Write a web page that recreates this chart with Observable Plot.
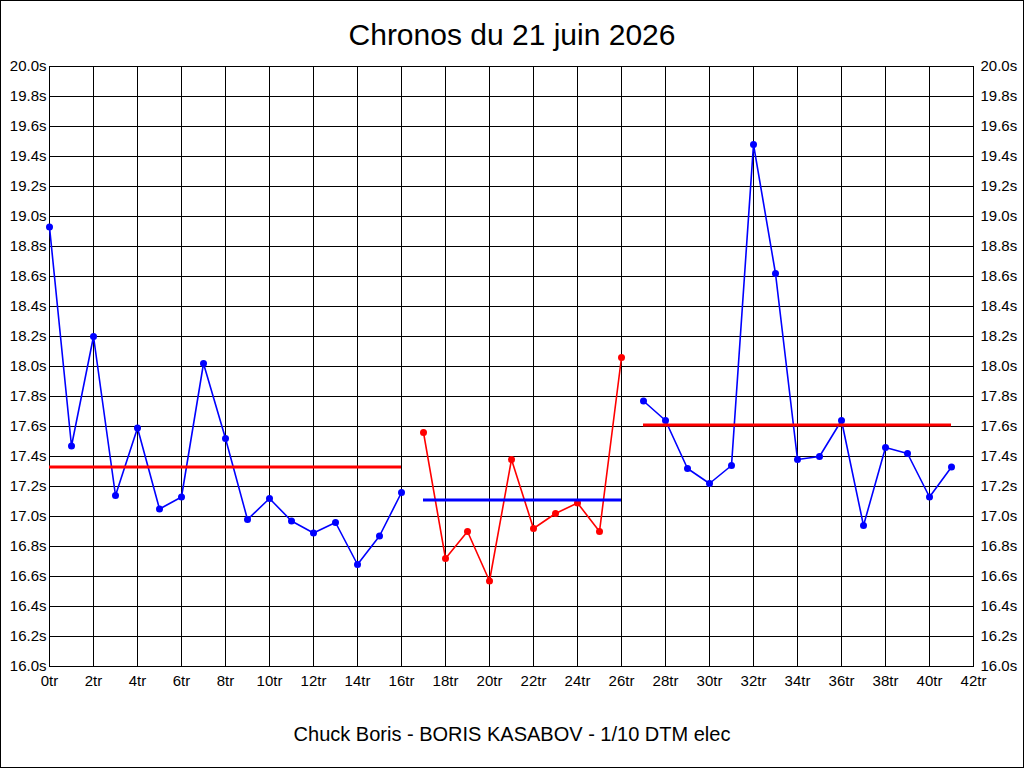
<!DOCTYPE html>
<html>
<head>
<meta charset="utf-8">
<script src="https://cdn.jsdelivr.net/npm/d3@7"></script>
<script src="https://cdn.jsdelivr.net/npm/@observablehq/plot@0.6"></script>
<style>
  html, body { margin: 0; padding: 0; background: #fff; }
  #wrap { position: relative; width: 1024px; height: 768px; overflow: hidden; background: #fff; font-family: "Liberation Sans", Arial, sans-serif; }
  #wrap::after { content: ""; position: absolute; left: 0; top: 0; right: 0; bottom: 0; border: 1px solid #000; pointer-events: none; }
  #title { padding-top: 20px; height: 30px; line-height: 30px; font-size: 30px; text-align: center; color: #000; }
  #footer { padding-top: 24px; line-height: 20px; font-size: 20px; text-align: center; color: #000; }
  svg { display: block; }
</style>
</head>
<body>
<div id="wrap">
  <div id="title">Chronos du 21 juin 2026</div>
  <div id="chart"></div>
  <div id="footer">Chuck Boris - BORIS KASABOV - 1/10 DTM elec</div>
</div>
<script>
// Séries de tours et chronos (secondes)
const laps1 = [0,1,2,3,4,5,6,7,8,9,10,11,12,13,14,15,16];
const times1 = [18.93,17.47,18.20,17.14,17.59,17.05,17.13,18.02,17.52,16.98,17.12,16.97,16.89,16.96,16.68,16.87,17.16];
const laps2 = [17,18,19,20,21,22,23,24,25,26];
const times2 = [17.56,16.72,16.90,16.57,17.38,16.92,17.02,17.09,16.90,18.06];
const laps3 = [27,28,29,30,31,32,33,34,35,36,37,38,39,40,41];
const times3 = [17.77,17.64,17.32,17.22,17.34,19.48,18.62,17.38,17.40,17.64,16.94,17.46,17.42,17.13,17.33];
// Moyennes par relais
const meanStart = [0, 17, 27];
const meanEnd = [16, 26, 41];
const meanValue = [17.33, 17.11, 17.61];
const seriesColors = ["#0000ff", "#ff0000", "#0000ff"];
const meanColors = ["#ff0000", "#0000ff", "#ff0000"];
// Graduations
const xTicks = [0,2,4,6,8,10,12,14,16,18,20,22,24,26,28,30,32,34,36,38,40,42];
const yTicks = [16.0,16.2,16.4,16.6,16.8,17.0,17.2,17.4,17.6,17.8,18.0,18.2,18.4,18.6,18.8,19.0,19.2,19.4,19.6,19.8,20.0];

const series = [
  {laps: laps1, times: times1},
  {laps: laps2, times: times2},
  {laps: laps3, times: times3}
].map((s, i) => s.laps.map((l, j) => ({lap: l, t: s.times[j], s: i})));

const means = meanValue.map((v, i) => ({x1: meanStart[i], x2: meanEnd[i], y: v, c: meanColors[i]}));

const tickFont = '"Liberation Sans Narrow", "Liberation Sans", Arial, sans-serif';

const marks = [
  Plot.ruleY(yTicks, {stroke: "#000", strokeWidth: 1}),
  Plot.ruleX(xTicks, {y1: 16, y2: 20, stroke: "#000", strokeWidth: 1}),
  Plot.frame({stroke: "#000", strokeWidth: 1}),
  Plot.axisY(yTicks, {anchor: "left", tickSize: 0, tickPadding: 3, tickFormat: d => d.toFixed(1) + "s", fontSize: 15, fontFamily: tickFont, fill: "#000", label: null}),
  Plot.axisY(yTicks, {anchor: "right", tickSize: 0, tickPadding: 7, tickFormat: d => d.toFixed(1) + "s", fontSize: 15, fontFamily: tickFont, fill: "#000", label: null}),
  Plot.axisX(xTicks, {anchor: "bottom", tickSize: 0, tickPadding: 9, tickFormat: d => d + "tr", fontSize: 15, fontFamily: tickFont, fill: "#000", label: null}),
];
series.forEach((data, i) => {
  marks.push(Plot.line(data, {x: "lap", y: "t", stroke: seriesColors[i], strokeWidth: 1.6}));
  marks.push(Plot.dot(data, {x: "lap", y: "t", r: 3.5, fill: seriesColors[i], stroke: "none"}));
});
means.forEach(m => {
  marks.push(Plot.ruleY([m], {y: "y", x1: "x1", x2: "x2", stroke: m.c, strokeWidth: 3}));
});

const chart = Plot.plot({
  width: 1024,
  height: 650,
  marginTop: 16,
  marginBottom: 34,
  marginLeft: 49,
  marginRight: 51,
  x: {domain: [0, 42], axis: null},
  y: {domain: [16, 20], axis: null},
  style: {background: "transparent", overflow: "visible"},
  marks
});
document.getElementById("chart").appendChild(chart);
</script>
</body>
</html>
